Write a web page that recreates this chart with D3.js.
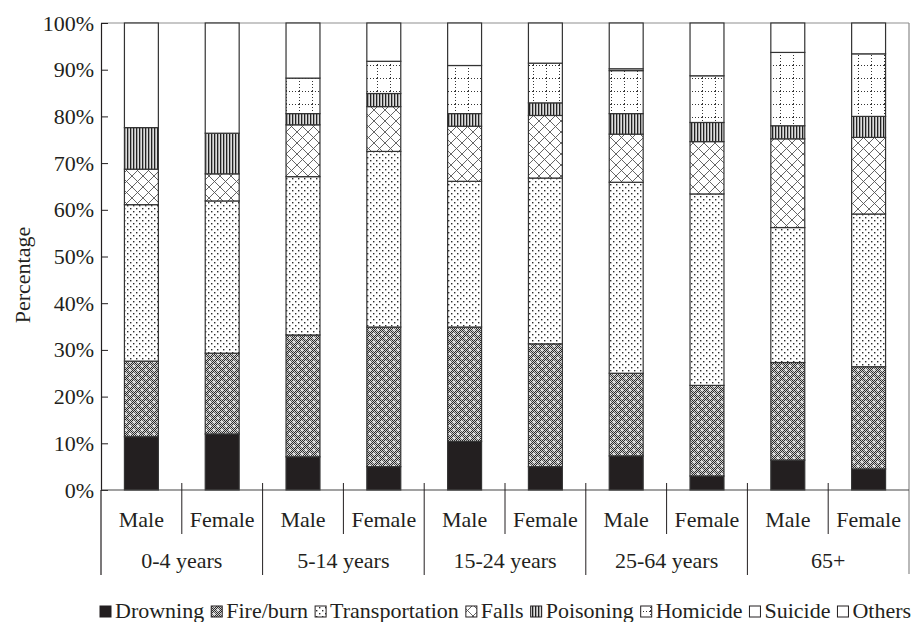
<!DOCTYPE html>
<html>
<head>
<meta charset="utf-8">
<script src="https://cdn.jsdelivr.net/npm/d3@7"></script>
<style>
  body { margin: 0; background: #fff; }
  svg text { font-family: "Liberation Serif", "DejaVu Serif", "Times New Roman", serif; fill: #231f20; }
</style>
</head>
<body>
<div id="chart"></div>
<script>
const groups = ['0-4 years', '5-14 years', '15-24 years', '25-64 years', '65+'];
const sexes = ['Male', 'Female'];
const causes = ['Drowning', 'Fire/burn', 'Transportation', 'Falls', 'Poisoning', 'Homicide', 'Suicide', 'Others'];
const yTicks = [0, 10, 20, 30, 40, 50, 60, 70, 80, 90, 100];

// one value per bar: Male/Female for each age group, in order
const drowning =       [11.4, 12.0,  7.1,  5.0, 10.4,  5.0,  7.3,  3.0,  6.4,  4.5];
const fireBurn =       [16.2, 17.3, 26.1, 29.9, 24.5, 26.3, 17.7, 19.4, 20.9, 21.9];
const transportation = [33.5, 32.6, 33.9, 37.6, 31.2, 35.5, 40.9, 41.0, 28.9, 32.7];
const falls =          [ 7.6,  5.8, 11.1,  9.6, 11.8, 13.4, 10.3, 11.2, 19.0, 16.4];
const poisoning =      [ 8.9,  8.7,  2.4,  2.8,  2.7,  2.7,  4.4,  4.1,  2.8,  4.5];
const homicide =       [ 0.0,  0.0,  7.6,  6.9, 10.3,  8.5,  9.2, 10.0, 15.7, 13.4];
const suicide =        [ 0.0,  0.0,  0.0,  0.0,  0.0,  0.0,  0.4,  0.0,  0.0,  0.0];
const others =         [22.4, 23.6, 11.8,  8.2,  9.1,  8.6,  9.8, 11.3,  6.3,  6.6];

const series = [drowning, fireBurn, transportation, falls, poisoning, homicide, suicide, others];

const width = 919;
const height = 622;
const plotLeft = 101, plotRight = 909, plotTop = 23, plotBottom = 490;
const font = '"Liberation Serif", "DejaVu Serif", serif';
const fontSize = 22;

const rows = [];
groups.forEach((g, gi) => {
  sexes.forEach((s, si) => {
    const i = gi * 2 + si;
    const row = { key: g + '|' + s, group: g, sex: s };
    causes.forEach((c, ci) => { row[c] = series[ci][i]; });
    rows.push(row);
  });
});

const svg = d3.select('#chart').append('svg')
  .attr('width', width)
  .attr('height', height)
  .attr('font-family', font);

const defs = svg.append('defs');

// fill patterns, roughly like the printed hatchings
const pFire = defs.append('pattern').attr('id', 'p-fire')
  .attr('patternUnits', 'userSpaceOnUse').attr('width', 8).attr('height', 8);
pFire.append('rect').attr('width', 8).attr('height', 8).attr('fill', '#cfcfcf');
for (let i = 0; i < 8; i++) {
  for (let j = 0; j < 8; j++) {
    if ((i + j) % 2 === 0) pFire.append('rect').attr('x', i).attr('y', j).attr('width', 1).attr('height', 1).attr('fill', '#2a2a2a');
  }
}
[[2, 2], [6, 6]].forEach(([cx, cy]) => {
  pFire.append('path').attr('d', `M${cx - 1.5},${cy}H${cx + 1.5}M${cx},${cy - 1.5}V${cy + 1.5}`)
    .attr('stroke', '#fff').attr('stroke-width', 1);
});

const pTrans = defs.append('pattern').attr('id', 'p-trans')
  .attr('patternUnits', 'userSpaceOnUse').attr('width', 6).attr('height', 6);
pTrans.append('rect').attr('width', 6).attr('height', 6).attr('fill', '#fff');
pTrans.append('rect').attr('x', 1).attr('y', 1).attr('width', 1.4).attr('height', 1.4).attr('fill', '#2a2a2a');
pTrans.append('rect').attr('x', 4).attr('y', 4).attr('width', 1.4).attr('height', 1.4).attr('fill', '#2a2a2a');

const pFalls = defs.append('pattern').attr('id', 'p-falls')
  .attr('patternUnits', 'userSpaceOnUse').attr('width', 11).attr('height', 11);
pFalls.append('rect').attr('width', 11).attr('height', 11).attr('fill', '#fff');
pFalls.append('path').attr('d', 'M0,0L11,11M11,0L0,11')
  .attr('stroke', '#555').attr('stroke-width', 0.9);

const pPois = defs.append('pattern').attr('id', 'p-pois')
  .attr('patternUnits', 'userSpaceOnUse').attr('width', 3).attr('height', 3);
pPois.append('rect').attr('width', 3).attr('height', 3).attr('fill', '#ddd');
pPois.append('rect').attr('x', 1).attr('width', 1.3).attr('height', 3).attr('fill', '#222');

const pHom = defs.append('pattern').attr('id', 'p-hom')
  .attr('patternUnits', 'userSpaceOnUse').attr('width', 13).attr('height', 13);
pHom.append('rect').attr('width', 13).attr('height', 13).attr('fill', '#fff');
pHom.append('path').attr('d', 'M0.5,0V13M0,0.5H13')
  .attr('stroke', '#333').attr('stroke-width', 1).attr('stroke-dasharray', '1,2');

const fills = ['#231f20', 'url(#p-fire)', 'url(#p-trans)', 'url(#p-falls)', 'url(#p-pois)', 'url(#p-hom)', '#fff', '#fff'];

const x = d3.scaleBand()
  .domain(rows.map(d => d.key))
  .range([plotLeft, plotRight])
  .paddingInner(0.58)
  .paddingOuter(0.29);

const y = d3.scaleLinear().domain([0, 100]).range([plotBottom, plotTop]);

const stacked = d3.stack().keys(causes)(rows);

// top and right border of plot area
svg.append('line')
  .attr('x1', plotLeft).attr('x2', plotRight).attr('y1', y(100)).attr('y2', y(100))
  .attr('stroke', '#b5b5b5').attr('stroke-width', 1.5);
svg.append('line')
  .attr('x1', plotRight).attr('x2', plotRight).attr('y1', y(100)).attr('y2', 574)
  .attr('stroke', '#8a8a8a').attr('stroke-width', 1.2);

svg.append('g')
  .selectAll('g')
  .data(stacked)
  .join('g')
    .attr('fill', (d, i) => fills[i])
  .selectAll('rect')
  .data(d => d.filter(p => p[1] - p[0] > 0))
  .join('rect')
    .attr('x', d => x(d.data.key))
    .attr('y', d => y(d[1]))
    .attr('width', x.bandwidth())
    .attr('height', d => y(d[0]) - y(d[1]))
    .attr('stroke', '#333')
    .attr('stroke-width', 1.2);

// y axis
const yAxis = svg.append('g')
  .attr('transform', `translate(${plotLeft},0)`)
  .call(d3.axisLeft(y).tickValues(yTicks).tickFormat(d => d + '%').tickSizeInner(-7).tickSizeOuter(0).tickPadding(7))
  .attr('font-family', font)
  .attr('font-size', fontSize);
yAxis.select('.domain').attr('stroke', '#231f20').attr('stroke-width', 1.2);
yAxis.selectAll('.tick line').attr('stroke', '#231f20');
yAxis.selectAll('text').attr('fill', '#231f20');

svg.append('text')
  .attr('transform', `translate(30,275) rotate(-90)`)
  .attr('text-anchor', 'middle')
  .attr('font-size', fontSize)
  .text('Percentage');

// category axis
svg.append('line')
  .attr('x1', plotLeft).attr('x2', plotRight).attr('y1', plotBottom).attr('y2', plotBottom)
  .attr('stroke', '#444').attr('stroke-width', 1.2);

const step = x.step();
rows.forEach((r, i) => {
  const bx = plotLeft + i * step;
  if (i > 0) {
    svg.append('line')
      .attr('x1', bx).attr('x2', bx)
      .attr('y1', plotBottom - 7).attr('y2', i % 2 === 0 ? 575 : 534)
      .attr('stroke', '#231f20').attr('stroke-width', 1);
  }
  svg.append('text')
    .attr('x', x(r.key) + x.bandwidth() / 2)
    .attr('y', 527)
    .attr('text-anchor', 'middle')
    .attr('font-size', fontSize)
    .text(r.sex);
});
svg.append('line')
  .attr('x1', plotLeft).attr('x2', plotLeft).attr('y1', plotBottom).attr('y2', 575)
  .attr('stroke', '#231f20').attr('stroke-width', 1.2);

groups.forEach((g, gi) => {
  svg.append('text')
    .attr('x', plotLeft + (gi * 2 + 1) * step)
    .attr('y', 568)
    .attr('text-anchor', 'middle')
    .attr('font-size', fontSize)
    .text(g);
});

// legend
const legend = svg.append('g');
let lx = 100;
causes.forEach((c, i) => {
  legend.append('rect')
    .attr('x', lx).attr('y', 606)
    .attr('width', 11).attr('height', 11)
    .attr('fill', fills[i])
    .attr('stroke', '#231f20').attr('stroke-width', 1);
  const t = legend.append('text')
    .attr('x', lx + 15)
    .attr('y', 618)
    .attr('font-size', fontSize)
    .text(c);
  lx += 15 + t.node().getComputedTextLength() + 7;
});
</script>
</body>
</html>
